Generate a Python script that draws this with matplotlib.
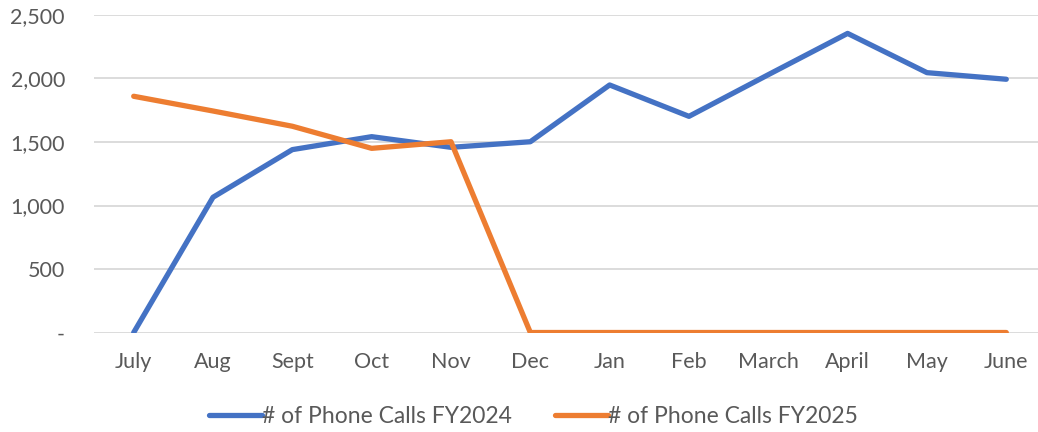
import matplotlib
matplotlib.use('Agg')
import matplotlib.pyplot as plt
from matplotlib.ticker import FuncFormatter

months = ['July', 'Aug', 'Sept', 'Oct', 'Nov', 'Dec',
          'Jan', 'Feb', 'March', 'April', 'May', 'June']
calls_fy2024 = [0, 1065, 1440, 1542, 1458, 1502, 1949, 1702, 2030, 2355, 2046, 1994]
calls_fy2025 = [1860, 1744, 1624, 1450, 1502, 0, 0, 0, 0, 0, 0, 0]

plt.rcParams['font.family'] = ['Lato', 'DejaVu Sans']
text_gray = '#595959'

fig = plt.figure(figsize=(10.38, 4.32), dpi=100)
ax = fig.add_axes([0.0906, 0.2303, 0.9094, 0.735])

x = range(len(months))
ax.plot(x, calls_fy2024, color='#4472C4', lw=3.8, solid_capstyle='round',
        solid_joinstyle='round', label='# of Phone Calls FY2024', zorder=3)
ax.plot(x, calls_fy2025, color='#ED7D31', lw=3.8, solid_capstyle='round',
        solid_joinstyle='round', label='# of Phone Calls FY2025', zorder=3)

ax.set_xlim(-0.5, 11.4)
ax.set_ylim(0, 2500)
ax.set_yticks(range(0, 2501, 500))
ax.yaxis.set_major_formatter(FuncFormatter(lambda v, p: '-' if v == 0 else f'{int(v):,}'))
ax.set_xticks(list(x))
ax.set_xticklabels(months)

ax.grid(axis='y', color='#d9d9d9', lw=1.3, zorder=0)
for s in ax.spines.values():
    s.set_visible(False)
ax.tick_params(axis='both', length=0, labelsize=15.5, labelcolor=text_gray)
ax.tick_params(axis='y', pad=21)
ax.tick_params(axis='x', pad=14)

fig.legend(loc='center', bbox_to_anchor=(0.514, 0.035), ncol=2, frameon=False,
           fontsize=16.5, labelcolor=text_gray, handlelength=2.3,
           handletextpad=0.0, columnspacing=1.9)

fig.savefig('out.png', dpi=100)
